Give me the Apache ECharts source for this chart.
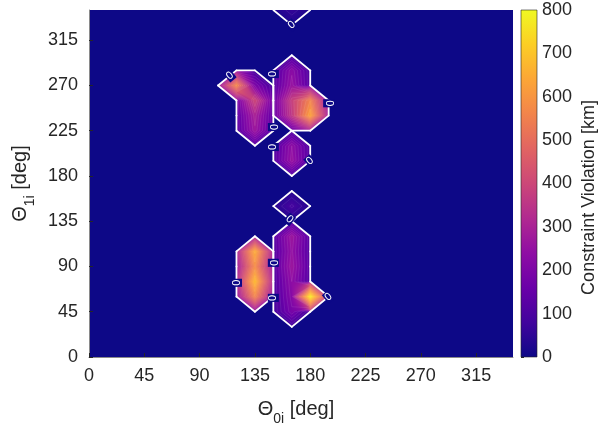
<!DOCTYPE html>
<html>
<head>
<meta charset="utf-8">
<script src="https://cdn.jsdelivr.net/npm/echarts@6/dist/echarts.min.js"></script>
<style>
  html, body { margin: 0; padding: 0; background: #ffffff; }
  #chart { width: 600px; height: 425px; }
</style>
</head>
<body>
<div id="chart"></div>
<script>
// Sweep grid of initial angles (deg)
const theta0Nodes = [0, 15, 30, 45, 60, 75, 90, 105, 120, 135, 150, 165, 180, 195, 210, 225, 240, 255, 270, 285, 300, 315, 330, 345];
const theta1Nodes = [0, 15, 30, 45, 60, 75, 90, 105, 120, 135, 150, 165, 180, 195, 210, 225, 240, 255, 270, 285, 300, 315, 330, 345];

// Grid nodes with a non-zero constraint violation (every other node is 0 km)
const violTheta0 = [165, 120, 135, 135, 135, 135, 165, 165, 165, 165, 180, 180, 165, 165, 165, 165, 165, 165, 165, 165, 165, 180, 135, 135, 135, 135];
const violTheta1 = [345, 270, 270, 255, 240, 225, 285, 270, 255, 240, 255, 240, 210, 195, 150, 120, 105, 90, 75, 60, 45, 60, 105, 90, 75, 60];
const violKm     = [60, 570, 200, 400, 300, 270, 230, 260, 380, 360, 560, 630, 240, 260, 90, 270, 250, 270, 240, 220, 190, 780, 650, 580, 680, 560];

// Colour scale
const colorTicks = [0, 100, 200, 300, 400, 500, 600, 700, 800];
const plasmaStops = ['#0d0887', '#41049d', '#6a00a8', '#8f0da4', '#b12a90', '#cc4778', '#e16462', '#f2844b', '#fca636', '#fcce25', '#f0f921'];
const contourStep = 40;

const FONT = '"Liberation Sans", Arial, Helvetica, sans-serif';
const TXT = '#262626';
const cMin = colorTicks[0], cMax = colorTicks[colorTicks.length - 1];

// ---- violation grid Z[i][j] (i: theta0 index, j: theta1 index) ----
const nx = theta0Nodes.length, ny = theta1Nodes.length;
const Z = [];
for (let i = 0; i < nx; i++) { Z.push(new Array(ny).fill(0)); }
violKm.forEach((v, k) => {
  Z[theta0Nodes.indexOf(violTheta0[k])][theta1Nodes.indexOf(violTheta1[k])] = v;
});

// ---- colour map ----
const stopRGB = plasmaStops.map(h => [parseInt(h.slice(1, 3), 16), parseInt(h.slice(3, 5), 16), parseInt(h.slice(5, 7), 16)]);
function plasma(t) {
  t = Math.max(0, Math.min(1, t));
  const n = stopRGB.length - 1;
  const k = Math.min(n - 1, Math.floor(t * n));
  const f = t * n - k;
  const a = stopRGB[k], b = stopRGB[k + 1];
  return [a[0] + (b[0] - a[0]) * f, a[1] + (b[1] - a[1]) * f, a[2] + (b[2] - a[2]) * f];
}

// ---- marching-squares helpers on one cell (unit coordinates) ----
const UC = [[0, 0], [1, 0], [1, 1], [0, 1]];
function abovePoly(zs, L) {
  const poly = [];
  for (let k = 0; k < 4; k++) {
    const n = (k + 1) % 4;
    const a = zs[k] > L, b = zs[n] > L;
    if (a) poly.push(UC[k]);
    if (a !== b) {
      const t = (L - zs[k]) / (zs[n] - zs[k]);
      poly.push([UC[k][0] + (UC[n][0] - UC[k][0]) * t, UC[k][1] + (UC[n][1] - UC[k][1]) * t]);
    }
  }
  return poly;
}
function inPoly(poly, u, v) {
  let inside = false;
  for (let a = 0, b = poly.length - 1; a < poly.length; b = a++) {
    const xa = poly[a][0], ya = poly[a][1], xb = poly[b][0], yb = poly[b][1];
    if ((ya > v) !== (yb > v) && u < (xb - xa) * (v - ya) / (yb - ya) + xa) inside = !inside;
  }
  return inside;
}
// value shown at (u,v): -1 outside the zero contour
function cellShade(zs, u, v) {
  if (!inPoly(abovePoly(zs, 0), u, v)) return -1;
  let lo = 0, hi = Math.max(zs[0], zs[1], zs[2], zs[3]);
  for (let it = 0; it < 14; it++) {
    const mid = (lo + hi) / 2;
    if (inPoly(abovePoly(zs, mid), u, v)) lo = mid; else hi = mid;
  }
  const w = [(1 - u) * (1 - v), u * (1 - v), u * v, (1 - u) * v];
  let ws = 0, wz = 0;
  for (let k = 0; k < 4; k++) if (zs[k] > 0) { ws += w[k]; wz += w[k] * zs[k]; }
  const g = ws > 0 ? wz / ws : 0;
  return 0.45 * g + 0.55 * lo;
}
// contour segments of one cell, in data coordinates
function cellSegments(i, j, L) {
  const x0 = theta0Nodes[i], x1 = theta0Nodes[i + 1], y0 = theta1Nodes[j], y1 = theta1Nodes[j + 1];
  const P = [[x0, y0], [x1, y0], [x1, y1], [x0, y1]];
  const zs = [Z[i][j], Z[i + 1][j], Z[i + 1][j + 1], Z[i][j + 1]];
  const cr = [];
  for (let k = 0; k < 4; k++) {
    const n = (k + 1) % 4;
    if ((zs[k] > L) !== (zs[n] > L)) {
      const t = (L - zs[k]) / (zs[n] - zs[k]);
      cr.push({ e: k, p: [P[k][0] + (P[n][0] - P[k][0]) * t, P[k][1] + (P[n][1] - P[k][1]) * t] });
    } else cr.push(null);
  }
  const pts = cr.filter(c => c);
  let segs = [];
  if (pts.length === 2) segs = [[pts[0].p, pts[1].p]];
  else if (pts.length === 4) {
    const centre = (zs[0] + zs[1] + zs[2] + zs[3]) / 4 > L;
    const blAbove = zs[0] > L;
    if (blAbove === centre) segs = [[cr[0].p, cr[1].p], [cr[2].p, cr[3].p]];
    else segs = [[cr[3].p, cr[0].p], [cr[1].p, cr[2].p]];
  }
  return segs.filter(s => Math.abs(s[0][0] - s[1][0]) + Math.abs(s[0][1] - s[1][1]) > 1e-6);
}

// cells touching a violating node
const cells = [];
for (let i = 0; i < nx - 1; i++) {
  for (let j = 0; j < ny - 1; j++) {
    if (Z[i][j] > 0 || Z[i + 1][j] > 0 || Z[i + 1][j + 1] > 0 || Z[i][j + 1] > 0) {
      cells.push([(theta0Nodes[i] + theta0Nodes[i + 1]) / 2, (theta1Nodes[j] + theta1Nodes[j + 1]) / 2, i, j]);
    }
  }
}

// ---- zero-contour labels: chain the segments and space labels along them ----
const zeroSegs = [];
cells.forEach(c => cellSegments(c[2], c[3], 0).forEach(s => zeroSegs.push(s)));
const key = p => p[0].toFixed(3) + ',' + p[1].toFixed(3);
const byEnd = {};
zeroSegs.forEach((s, k) => { [0, 1].forEach(e => { (byEnd[key(s[e])] = byEnd[key(s[e])] || []).push(k); }); });
const used = new Array(zeroSegs.length).fill(false);
function walk(start) {
  const out = [];
  let cur = start;
  for (;;) {
    const nxt = (byEnd[key(cur)] || []).find(k => !used[k]);
    if (nxt === undefined) break;
    used[nxt] = true;
    const s = zeroSegs[nxt];
    cur = key(s[0]) === key(cur) ? s[1] : s[0];
    out.push(cur);
  }
  return out;
}
const chains = [];
zeroSegs.forEach((s, k) => {
  if (used[k]) return;
  used[k] = true;
  const fwd = walk(s[1]);
  const back = walk(s[0]).reverse();
  chains.push(back.concat([s[0], s[1]], fwd));
});
const labelSpacing = 85, labelOffset = 35, labelMinGap = 14;
const zeroLabels = [];
chains.forEach(ch => {
  let acc = 0, total = 0;
  for (let k = 0; k + 1 < ch.length; k++) total += Math.hypot(ch[k + 1][0] - ch[k][0], ch[k + 1][1] - ch[k][1]);
  let next = total > 2 * labelOffset ? labelOffset : total / 2;
  for (let k = 0; k + 1 < ch.length; k++) {
    const a = ch[k], b = ch[k + 1];
    const len = Math.hypot(b[0] - a[0], b[1] - a[1]);
    while (acc + len >= next) {
      const t = (next - acc) / len;
      const px = a[0] + (b[0] - a[0]) * t, py = a[1] + (b[1] - a[1]) * t;
      // skip a label that would crowd one already placed
      if (!zeroLabels.some(l => Math.hypot(l[0] - px, l[1] - py) < labelMinGap)) {
        zeroLabels.push([px, py, b[0] - a[0], b[1] - a[1]]);
      }
      next += labelSpacing;
    }
    acc += len;
  }
});

// ---- series ----
function renderFill(params, api) {
  const i = api.value(2), j = api.value(3);
  const p0 = api.coord([theta0Nodes[i], theta1Nodes[j + 1]]);
  const p1 = api.coord([theta0Nodes[i + 1], theta1Nodes[j]]);
  const L = Math.round(p0[0]), T = Math.round(p0[1]), R = Math.round(p1[0]), B = Math.round(p1[1]);
  const W = R - L, H = B - T;
  if (W <= 0 || H <= 0) return null;
  const zs = [Z[i][j], Z[i + 1][j], Z[i + 1][j + 1], Z[i][j + 1]];
  const cv = document.createElement('canvas');
  cv.width = W; cv.height = H;
  const ctx = cv.getContext('2d');
  const img = ctx.createImageData(W, H);
  for (let r = 0; r < H; r++) {
    for (let c = 0; c < W; c++) {
      const u = Math.max(0, Math.min(1, (L + c + 0.5 - p0[0]) / (p1[0] - p0[0])));
      const v = Math.max(0, Math.min(1, (p1[1] - (T + r + 0.5)) / (p1[1] - p0[1])));
      const d = cellShade(zs, u, v);
      if (d < 0) continue;
      const col = plasma((d - cMin) / (cMax - cMin));
      const o = (r * W + c) * 4;
      img.data[o] = col[0]; img.data[o + 1] = col[1]; img.data[o + 2] = col[2]; img.data[o + 3] = 255;
    }
  }
  ctx.putImageData(img, 0, 0);
  return { type: 'image', style: { image: cv, x: L, y: T, width: W, height: H } };
}

function renderContours(params, api) {
  const i = api.value(2), j = api.value(3);
  const children = [];
  for (let lev = contourStep; lev < cMax; lev += contourStep) {
    cellSegments(i, j, lev).forEach(s => {
      const a = api.coord(s[0]), b = api.coord(s[1]);
      children.push({ type: 'line', shape: { x1: a[0], y1: a[1], x2: b[0], y2: b[1] },
        style: { stroke: 'rgba(255,255,255,0.14)', lineWidth: 0.6 } });
    });
  }
  cellSegments(i, j, 0).forEach(s => {
    const a = api.coord(s[0]), b = api.coord(s[1]);
    children.push({ type: 'line', shape: { x1: a[0], y1: a[1], x2: b[0], y2: b[1] },
      style: { stroke: '#ffffff', lineWidth: 1.8, lineCap: 'round' } });
  });
  return { type: 'group', children };
}

function renderZeroLabel(params, api) {
  const x = api.value(0), y = api.value(1);
  const a = api.coord([x, y]);
  const b = api.coord([x + api.value(2), y + api.value(3)]);
  let ang = -Math.atan2(b[1] - a[1], b[0] - a[0]);
  if (ang > Math.PI / 2) ang -= Math.PI;
  if (ang < -Math.PI / 2) ang += Math.PI;
  return {
    type: 'text', x: a[0], y: a[1], rotation: ang,
    style: { text: '0', x: 0, y: 0, align: 'center', verticalAlign: 'middle', fill: '#ffffff',
      fontSize: 11, fontFamily: FONT, backgroundColor: '#0d0887', padding: [0, 1] }
  };
}

function renderColorbar(params, api) {
  const a = api.coord([0, cMin]), b = api.coord([1, cMax]);
  const stops = plasmaStops.map((c, k) => ({ offset: k / (plasmaStops.length - 1), color: c }));
  return {
    type: 'rect',
    shape: { x: a[0], y: b[1], width: b[0] - a[0], height: a[1] - b[1] },
    style: { fill: new echarts.graphic.LinearGradient(0, 1, 0, 0, stops), stroke: TXT, lineWidth: 0.6 }
  };
}

const nameRich = {
  t: { fontSize: 20, fontFamily: FONT, color: TXT, lineHeight: 22, verticalAlign: 'top' },
  s: { fontSize: 14, fontFamily: FONT, color: TXT, lineHeight: 27, verticalAlign: 'bottom' }
};
const labelStyle = { fontSize: 18, fontFamily: FONT, color: TXT };

const chart = echarts.init(document.getElementById('chart'), null, { renderer: 'canvas' });
chart.setOption({
  animation: false,
  backgroundColor: '#ffffff',
  grid: [
    { left: 89, top: 10, width: 424, height: 347, show: true, backgroundColor: plasmaStops[0], borderWidth: 0, outerBoundsMode: 'none', containLabel: false },
    { left: 521, top: 10, width: 16, height: 347, outerBoundsMode: 'none', containLabel: false }
  ],
  xAxis: [
    {
      type: 'value', gridIndex: 0, min: 0, max: 345, interval: 45,
      axisLine: { show: true, onZero: false, lineStyle: { color: '#8a8a8a', width: 1 } },
      axisTick: { show: true, inside: true, length: 4, lineStyle: { color: TXT } },
      axisLabel: Object.assign({ margin: 10, showMaxLabel: false }, labelStyle),
      splitLine: { show: false },
      name: '{t|Θ}{s|0i}{t| [deg]}', nameLocation: 'middle', nameGap: 42,
      nameTextStyle: { rich: nameRich, padding: [0, 10, 0, 0] }
    },
    { type: 'value', gridIndex: 1, min: 0, max: 1, show: false }
  ],
  yAxis: [
    {
      type: 'value', gridIndex: 0, min: 0, max: 345, interval: 45,
      axisLine: { show: true, onZero: false, lineStyle: { color: '#8a8a8a', width: 1 } },
      axisTick: { show: true, inside: true, length: 4, lineStyle: { color: TXT } },
      axisLabel: Object.assign({ margin: 11, showMaxLabel: false }, labelStyle),
      splitLine: { show: false },
      name: '{t|Θ}{s|1i}{t| [deg]}', nameLocation: 'middle', nameGap: 52, nameRotate: 90,
      nameTextStyle: { rich: nameRich }
    },
    {
      type: 'value', gridIndex: 1, position: 'right', min: cMin, max: cMax, interval: 100,
      axisLine: { show: false },
      axisTick: { show: true, inside: false, length: 3, lineStyle: { color: TXT } },
      axisLabel: Object.assign({ margin: 5 }, labelStyle),
      splitLine: { show: false },
      name: 'Constraint Violation [km]', nameLocation: 'middle', nameGap: 43, nameRotate: 90,
      nameTextStyle: { fontSize: 18, fontFamily: FONT, color: TXT, padding: [0, 28, 0, 0] }
    }
  ],
  series: [
    { type: 'custom', name: 'violation', xAxisIndex: 0, yAxisIndex: 0, data: cells, renderItem: renderFill, clip: true, silent: true },
    { type: 'custom', name: 'contours', xAxisIndex: 0, yAxisIndex: 0, data: cells, renderItem: renderContours, clip: true, silent: true },
    { type: 'custom', name: 'zero labels', xAxisIndex: 0, yAxisIndex: 0, data: zeroLabels, renderItem: renderZeroLabel, clip: true, silent: true },
    { type: 'custom', name: 'colorbar', xAxisIndex: 1, yAxisIndex: 1, data: [[0, 0]], renderItem: renderColorbar, silent: true }
  ]
});
</script>
</body>
</html>
